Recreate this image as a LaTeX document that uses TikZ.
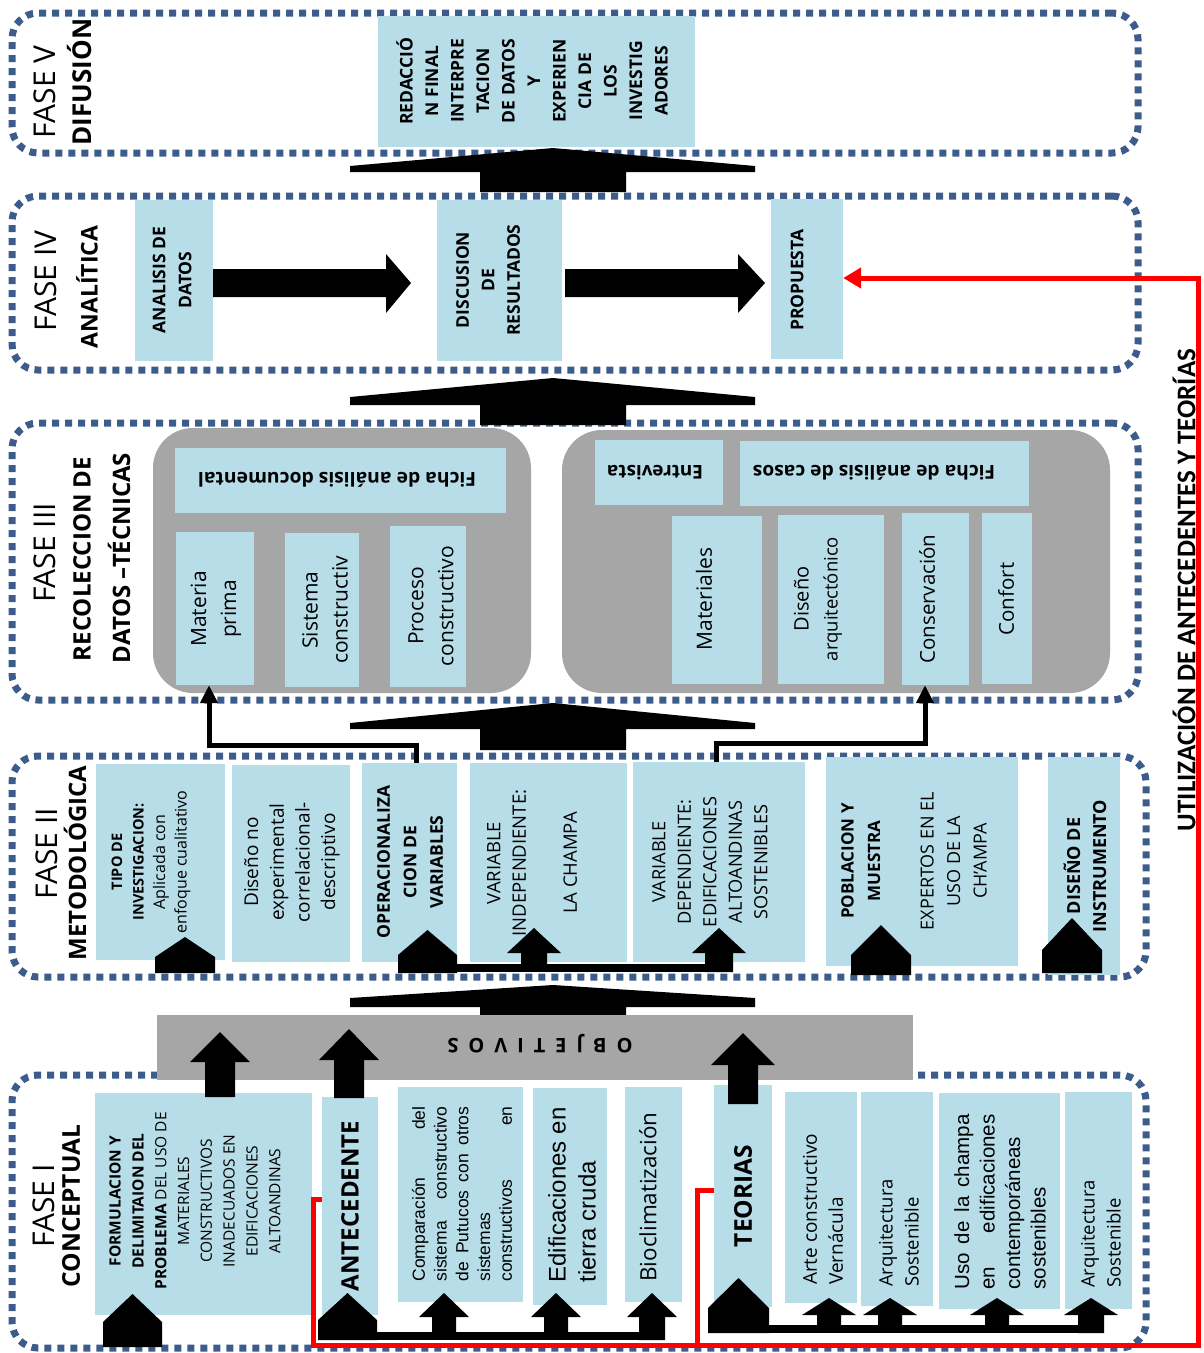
\documentclass[tikz,border=0pt]{standalone}
\usepackage{fontspec}
\setmainfont{Open Sans}
\newfontfamily\arialf{Liberation Sans}
\newfontfamily\calibf{Carlito}
\usetikzlibrary{fit,arrows.meta}
\definecolor{boxblue}{HTML}{B7DDE8}
\definecolor{framecol}{HTML}{3C5C8C}
\definecolor{grayfill}{HTML}{A6A6A6}
\newcommand\fsz[2]{\fontsize{#1}{#2}\selectfont}
% house shaped arrow: x1,x2,apex,shoulder,base
\newcommand\houseshape[5]{\fill[black] (#1,#5) -- (#1,#4) -- ({(#1+#2)/2},#3) -- (#2,#4) -- (#2,#5) -- cycle;}
% block up arrow: cx, tip, headbase, headhalf, stemhalf, bottom
\newcommand\upblock[6]{\fill[black] (#1,#2) -- (#1+#4,#3) -- (#1+#5,#3) -- (#1+#5,#6) -- (#1-#5,#6) -- (#1-#5,#3) -- (#1-#4,#3) -- cycle;}
% wide arrow between phases: apex, wingtop, wingbottom, stembottom
\newcommand\bigarrowup[4]{\fill[black] (350,#2) -- (553,#1) -- (755,#2) -- (755,#3) -- (626,#3) -- (626,#4) -- (480,#4) -- (480,#3) -- (350,#3) -- cycle;}
% block right arrow: start, headbase, tip
\newcommand\rightblock[3]{\fill[black] (#1,269) -- (#2,269) -- (#2,254) -- (#3,283) -- (#2,313) -- (#2,297) -- (#1,297) -- cycle;}
\begin{document}
\begin{tikzpicture}[x=1pt,y=-1pt,
  bx/.style={fill=boxblue, inner sep=0pt, draw=none},
  gbx/.style={fill=grayfill, inner sep=0pt, draw=none, rounded corners=40pt},
  frame/.style={draw=framecol, line width=7pt, dash pattern=on 7pt off 6pt, rounded corners=26pt, inner sep=0pt},
  tx/.style={inner sep=0pt, align=center, text=black},
  vt/.style={tx, rotate=90},
  ut/.style={tx, rotate=180},
  conn/.style={line width=5pt, -{Triangle[length=18pt,width=17pt]}},
  redline/.style={draw=red, line width=5pt},
]
\fill[white] (0,0) rectangle (1203,1353);
\useasboundingbox (0,0) rectangle (1203,1353);

% ---------- frames ----------
\node[frame, fit={(12,13) (1138,153)}] (f5) {};
\node[frame, fit={(12,196) (1138,370)}] (f4) {};
\node[frame, fit={(12,423) (1138,700)}] (f3) {};
\node[frame, fit={(12,756) (1146,977)}] (f2) {};
\node[frame, fit={(12,1075) (1146,1348)}] (f1) {};

% ---------- FASE V ----------
\node[vt, font={\fsz{30}{36}}] (t5a) at (45,92) {FASE V};
\node[vt, font={\bfseries\fsz{26}{30}}] (t5b) at (80,82) {DIFUSIÓN};
\node[bx, fit={(378,16) (695,147)}] (red) {};
\node[vt, font={\bfseries\fsz{17.5}{25.5}}] (redT) at (532,81) {REDACCIÓ\\N FINAL\\INTERPRE\\TACION\\DE DATOS\\Y\\EXPERIEN\\CIA DE\\LOS\\INVESTIG\\ADORES};

\bigarrowup{148}{166}{172}{192}

% ---------- FASE IV ----------
\node[vt, font={\fsz{30}{36}}] (t4a) at (46,281) {FASE IV};
\node[vt, font={\bfseries\fsz{23}{28}}] (t4b) at (87,287) {ANALÍTICA};
\node[bx, fit={(135,200) (213,361)}] (ana) {};
\node[vt, font={\bfseries\fsz{17.5}{26}}] (anaT) at (172,280) {ANALISIS DE\\DATOS};
\node[bx, fit={(437,200) (562,361)}] (dis) {};
\node[vt, font={\bfseries\fsz{17.5}{25.5}}] (disT) at (488,280) {DISCUSION\\DE\\RESULTADOS};
\node[bx, fit={(771,199) (843,359)}] (prop) {};
\node[vt, font={\bfseries\fsz{17.5}{25.5}}] (propT) at (797,280) {PROPUESTA};
\rightblock{213}{386}{411}
\rightblock{565}{738}{765}

\bigarrowup{378}{397}{405}{425}

% ---------- FASE III ----------
\node[vt, font={\fsz{30}{36}}] (t3a) at (45,553) {FASE III};
\node[vt, font={\bfseries\fsz{24}{30}}] (t3b) at (82,559) {RECOLECCION DE};
\node[vt, font={\bfseries\fsz{24}{30}}] (t3c) at (119,558) {DATOS –TÉCNICAS};
\node[gbx, fit={(153,428) (531,693)}] (g1) {};
\node[gbx, fit={(562,430) (1110,693)}] (g2) {};
\node[bx, fit={(175,448) (506,513)}] (fdoc) {};
\node[ut, font={\bfseries\fsz{19.3}{26}}] (fdocT) at (337,480) {Ficha de análisis documental};
\node[bx, fit={(176,532) (254,685)}] (mat) {};
\node[vt, font={\fsz{21}{30}}] (matT) at (216,609) {Materia\\prima};
\node[bx, fit={(285,533) (359,687)}] (sis) {};
\node[vt, font={\fsz{21}{30}}] (sisT) at (325,610) {Sistema\\constructiv};
\node[bx, fit={(390,526) (466,687)}] (pro) {};
\node[vt, font={\fsz{21}{30}}] (proT) at (431,606) {Proceso\\constructivo};
\node[bx, fit={(595,440) (723,505)}] (ent) {};
\node[ut, font={\bfseries\fsz{19}{26}}] (entT) at (655,473) {Entrevista};
\node[bx, fit={(740,441) (1029,506)}] (fcas) {};
\node[ut, font={\bfseries\fsz{19.2}{26}}] (fcasT) at (874,473) {Ficha de análisis de casos};
\node[bx, fit={(672,516) (762,684)}] (mtl) {};
\node[vt, font={\fsz{21}{29}}] (mtlT) at (704,599) {Materiales};
\node[bx, fit={(778,515) (884,684)}] (dsn) {};
\node[vt, font={\fsz{20}{29}}] (dsnT) at (818,599) {Diseño\\{\fsz{18.5}{29}arquitectónico}};
\node[bx, fit={(902,513) (969,685)}] (cons) {};
\node[vt, font={\fsz{20.5}{29}}] (consT) at (927,599) {Conservación};
\node[bx, fit={(982,513) (1032,684)}] (conf) {};
\node[vt, font={\fsz{20.5}{29}}] (confT) at (1006,599) {Confort};

\bigarrowup{703}{723}{729}{750}

% ---------- FASE II ----------
\node[vt, font={\fsz{30}{36}}] (t2a) at (47,854) {FASE II};
\node[vt, font={\bfseries\fsz{24}{30}}] (t2b) at (75,863) {METODOLÓGICA};
\node[bx, fit={(96,764) (225,960)}] (tip) {};
\node[vt, font={\fsz{16}{21.5}}] (tipT) at (151,862) {{\bfseries\fsz{14.5}{21.5}TIPO DE}\\{\bfseries\fsz{14.5}{21.5}INVESTIGACION:}\\Aplicada con\\enfoque cualitativo};
\node[bx, fit={(232,765) (350,962)}] (dno) {};
\node[vt, font={\fsz{19}{25.7}}] (dnoT) at (292,862) {Diseño no\\experimental\\correlacional-\\descriptivo};
\node[bx, fit={(362,763) (457,962)}] (opv) {};
\node[vt, font={\bfseries\fsz{17.5}{26.5}}] (opvT) at (410,862) {OPERACIONALIZA\\CION DE\\VARIABLES};
\node[bx, fit={(470,763) (627,962)}] (ind) {};
\node[vt, font={\fsz{18.5}{25.5}}] (indT) at (532,863) {VARIABLE\\INDEPENDIENTE:\\[25.5pt]LA CHAMPA};
\node[bx, fit={(633,762) (805,962)}] (dep) {};
\node[vt, font={\fsz{18.2}{25.5}}] (depT) at (710,862) {VARIABLE\\DEPENDIENTE:\\EDIFICACIONES\\ALTOANDINAS\\SOSTENIBLES};
\node[bx, fit={(826,757) (1018,966)}] (pob) {};
\node[vt, font={\fsz{18}{26.5}}] (pobT) at (914,861) {{\bfseries\fsz{17}{26.5}POBLACION Y}\\{\bfseries\fsz{17}{26.5}MUESTRA}\\[27pt]EXPERTOS EN EL\\USO DE LA\\CH’AMPA};
\node[bx, fit={(1048,757) (1120,975)}] (dins) {};
\node[vt, font={\bfseries\fsz{18}{26}}] (dinsT) at (1085,866) {DISEÑO DE\\INSTRUMENTO};

% connectors II -> III
\draw[conn] (416,0 |- opv.north) -- (416,745) -| (209,0 |- mat.south);
\draw[conn] (716,0 |- dep.north) -- (716,743) -| (925,0 |- cons.south);

% arrows inside FASE II
\houseshape{155}{215}{937}{957}{973}
\houseshape{398}{457}{930}{955}{973}
\houseshape{851}{911}{925}{955}{975}
\houseshape{1042}{1102}{918}{950}{973}
\fill[black] (457,964) rectangle (733,972);
\upblock{534}{928}{953}{27}{13}{970}
\upblock{719}{928}{953}{27}{14}{972}

\bigarrowup{985}{998}{1007}{1016}

% ---------- OBJETIVOS ----------
\node[fill=grayfill, inner sep=0pt, fit={(157,1015) (913,1080)}] (obj) {};
\node[ut, font={\bfseries\fsz{20}{24}}] (objT) at (540,1044) {\makebox[185pt][s]{O\hfill B\hfill J\hfill E\hfill T\hfill I\hfill V\hfill O\hfill S}};

% ---------- FASE I ----------
\node[vt, font={\fsz{30}{36}}] (t1a) at (44,1206) {FASE I};
\node[vt, font={\bfseries\fsz{24.5}{30}}] (t1b) at (71,1206) {CONCEPTUAL};
\node[bx, fit={(95,1093) (312,1315)}] (form) {};
\node[vt, font={\fsz{15.5}{22.8}}] (formT) at (195,1201) {\textbf{FORMULACION Y}\\\textbf{DELIMITAION DEL}\\\textbf{PROBLEMA} DEL USO DE\\MATERIALES\\CONSTRUCTIVOS\\INADECUADOS EN\\EDIFICACIONES\\ALTOANDINAS};
\node[bx, fit={(322,1097) (378,1315)}] (ant) {};
\node[vt, font={\bfseries\fsz{24}{30}}] (antT) at (350,1206) {ANTECEDENTE};
\node[bx, fit={(398,1087) (523,1302)}] (comp) {};
\node[vt, font={\arialf\fsz{17.5}{21.7}}] (compT) at (462,1194) {\makebox[175pt][s]{Comparación\hfill del}\\\makebox[175pt][s]{sistema constructivo}\\\makebox[175pt][s]{de Putucos con otros}\\\makebox[175pt][l]{sistemas}\\\makebox[175pt][s]{constructivos\hfill en}};
\node[bx, fit={(533,1088) (607,1305)}] (edi) {};
\node[vt, font={\arialf\fsz{24}{30}}] (ediT) at (572,1195) {\makebox[175pt][s]{Edificaciones\hfill en}\\\makebox[175pt][l]{tierra cruda}};
\node[bx, fit={(625,1087) (682,1302)}] (bio) {};
\node[vt, font={\fsz{22.4}{28}}] (bioT) at (648,1197) {Bioclimatización};
\node[bx, fit={(714,1085) (772,1307)}] (teo) {};
\node[vt, font={\bfseries\fsz{24.5}{30}}] (teoT) at (743,1196) {TEORIAS};
\node[bx, fit={(785,1092) (857,1303)}] (arte) {};
\node[vt, anchor=west, align=left, font={\fsz{19}{26}}] (arteT) at (823,1285) {Arte constructivo\\Vernácula};
\node[bx, fit={(861,1092) (933,1306)}] (arq1) {};
\node[vt, anchor=west, align=left, font={\fsz{18.5}{26}}] (arq1T) at (899,1287) {Arquitectura\\Sostenible};
\node[bx, fit={(939,1093) (1060,1309)}] (uso) {};
\node[vt, font={\arialf\fsz{20.5}{25.5}}] (usoT) at (1000,1202) {\makebox[175pt][s]{Uso de la champa}\\\makebox[175pt][s]{en\hfill edificaciones}\\\makebox[175pt][l]{contemporáneas}\\\makebox[175pt][l]{sostenibles}};
\node[bx, fit={(1065,1092) (1132,1309)}] (arq2) {};
\node[vt, anchor=west, align=left, font={\fsz{18.5}{26}}] (arq2T) at (1101,1288) {Arquitectura\\Sostenible};

% arrows to OBJETIVOS
\upblock{220}{1032}{1062}{30}{15}{1097}
\upblock{349}{1029}{1060}{30}{15}{1098}
\upblock{743}{1033}{1065}{32}{15}{1104}

% arrows inside FASE I
\houseshape{103}{162}{1294}{1322}{1347}
\houseshape{318}{377}{1293}{1320}{1340}
\houseshape{708}{769}{1278}{1308}{1333}
\fill[black] (377,1332) rectangle (665,1340);
\upblock{444}{1293}{1317}{25}{12}{1336}
\upblock{556}{1293}{1317}{25}{12}{1336}
\upblock{652}{1293}{1317}{25}{13}{1340}
\fill[black] (769,1325) rectangle (1104,1333);
\upblock{829}{1298}{1315}{27}{12}{1330}
\upblock{890}{1298}{1315}{27}{12}{1330}
\upblock{997}{1298}{1315}{27}{12}{1330}
\upblock{1091}{1298}{1315}{27}{13}{1333}

% ---------- red feedback lines ----------
\draw[redline, -{Triangle[length=18pt,width=20pt]}] (ant.west |- 0,1199) -- (313,1199) -- (313,1345) -- (1198,1345) -- (1198,278) -- (prop.east |- 0,278);
\draw[redline] (teo.west |- 0,1190) -- (697,1190) -- (697,1345);
\node[vt, font={\calibf\bfseries\fsz{27}{30}}] (util) at (1184,590) {UTILIZACIÓN DE ANTECEDENTES Y TEORÍAS};
\end{tikzpicture}
\end{document}
